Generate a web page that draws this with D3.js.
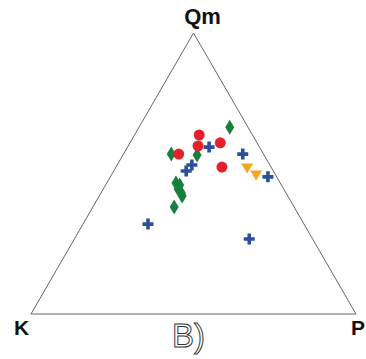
<!DOCTYPE html>
<html>
<head>
<meta charset="utf-8">
<script src="https://cdn.jsdelivr.net/npm/d3@7"></script>
<style>
  html, body { margin: 0; padding: 0; background: #fff; }
  svg { display: block; }
</style>
</head>
<body>
<svg id="chart" width="366" height="359"></svg>
<script>
// Compositions in percent: [Qm, K, P]
const greenDiamonds = [
  [66.5, 5.6, 27.9],
  [56.9, 28.4, 14.7],
  [56.6, 20.6, 22.8],
  [46.6, 32.1, 21.3],
  [45.9, 31.3, 22.8],
  [44.5, 32.5, 23.0],
  [43.1, 32.2, 24.7],
  [42.0, 32.5, 25.5],
  [38.1, 36.9, 25.0]
];
const redCircles = [
  [63.7, 16.4, 19.9],
  [59.8, 18.7, 21.5],
  [56.9, 26.1, 17.0],
  [60.9, 11.3, 27.8],
  [52.3, 15.1, 32.6]
];
const blueCrosses = [
  [59.4, 15.5, 25.1],
  [53.0, 24.0, 23.0],
  [50.9, 26.8, 22.3],
  [56.9, 6.4, 36.7],
  [48.8, 2.7, 48.5],
  [32.0, 48.0, 20.0],
  [26.7, 19.5, 53.8]
];
const orangeTriangles = [
  [52.0, 7.5, 40.5],
  [49.5, 6.0, 44.5]
];
const apexLabels = ["Qm", "K", "P"];
const panelLabel = "B)";

const svg = d3.select("#chart");

// Triangle geometry: Qm at the top, K bottom-left, P bottom-right
const xScale = d3.scaleLinear().domain([0, 100]).range([31, 356]);
const yScale = d3.scaleLinear().domain([0, 100]).range([314, 33]);
const project = ([qm, k, p]) => {
  const t = qm + k + p;
  const q = qm / t * 100, pp = p / t * 100;
  return [xScale(pp + q / 2), yScale(q)];
};

const corners = [[100, 0, 0], [0, 100, 0], [0, 0, 100]].map(project);
svg.append("path")
  .attr("d", d3.line()(corners) + "Z")
  .attr("fill", "none")
  .attr("stroke", "#555")
  .attr("stroke-width", 0.9);

// Apex labels
const labelFont = "Liberation Sans, Arial, sans-serif";
svg.append("text")
  .attr("x", corners[0][0] + 9).attr("y", 24)
  .attr("text-anchor", "middle")
  .attr("font-family", labelFont)
  .attr("font-weight", "bold").attr("font-size", 22)
  .attr("fill", "#111")
  .text(apexLabels[0]);
svg.append("text")
  .attr("x", corners[1][0] - 17).attr("y", 335)
  .attr("font-family", labelFont)
  .attr("font-weight", "bold").attr("font-size", 21)
  .attr("fill", "#111")
  .text(apexLabels[1]);
svg.append("text")
  .attr("x", 351).attr("y", 335)
  .attr("font-family", labelFont)
  .attr("font-weight", "bold").attr("font-size", 21)
  .attr("fill", "#111")
  .text(apexLabels[2]);

// Panel label, drawn as outlined letters
svg.append("text")
  .attr("x", 172).attr("y", 347)
  .attr("font-family", labelFont)
  .attr("font-size", 33)
  .attr("fill", "#fff")
  .attr("stroke", "#333")
  .attr("stroke-width", 1)
  .text(panelLabel);

// Markers
svg.append("g").selectAll("path")
  .data(greenDiamonds).join("path")
  .attr("transform", d => `translate(${project(d)})`)
  .attr("d", "M0,-7.5L4.5,0L0,7.5L-4.5,0Z")
  .attr("fill", "#16813f");

svg.append("g").selectAll("circle")
  .data(redCircles).join("circle")
  .attr("cx", d => project(d)[0])
  .attr("cy", d => project(d)[1])
  .attr("r", 5.5)
  .attr("fill", "#e3212b");

svg.append("g").selectAll("path")
  .data(blueCrosses).join("path")
  .attr("transform", d => `translate(${project(d)})`)
  .attr("d", "M-1.8,-5.5H1.8V-1.8H5.5V1.8H1.8V5.5H-1.8V1.8H-5.5V-1.8H-1.8Z")
  .attr("fill", "#2a4f9f");

svg.append("g").selectAll("path")
  .data(orangeTriangles).join("path")
  .attr("transform", d => `translate(${project(d)})`)
  .attr("d", "M-6,-4.5L6,-4.5L0,5.5Z")
  .attr("fill", "#f4a623");
</script>
</body>
</html>
